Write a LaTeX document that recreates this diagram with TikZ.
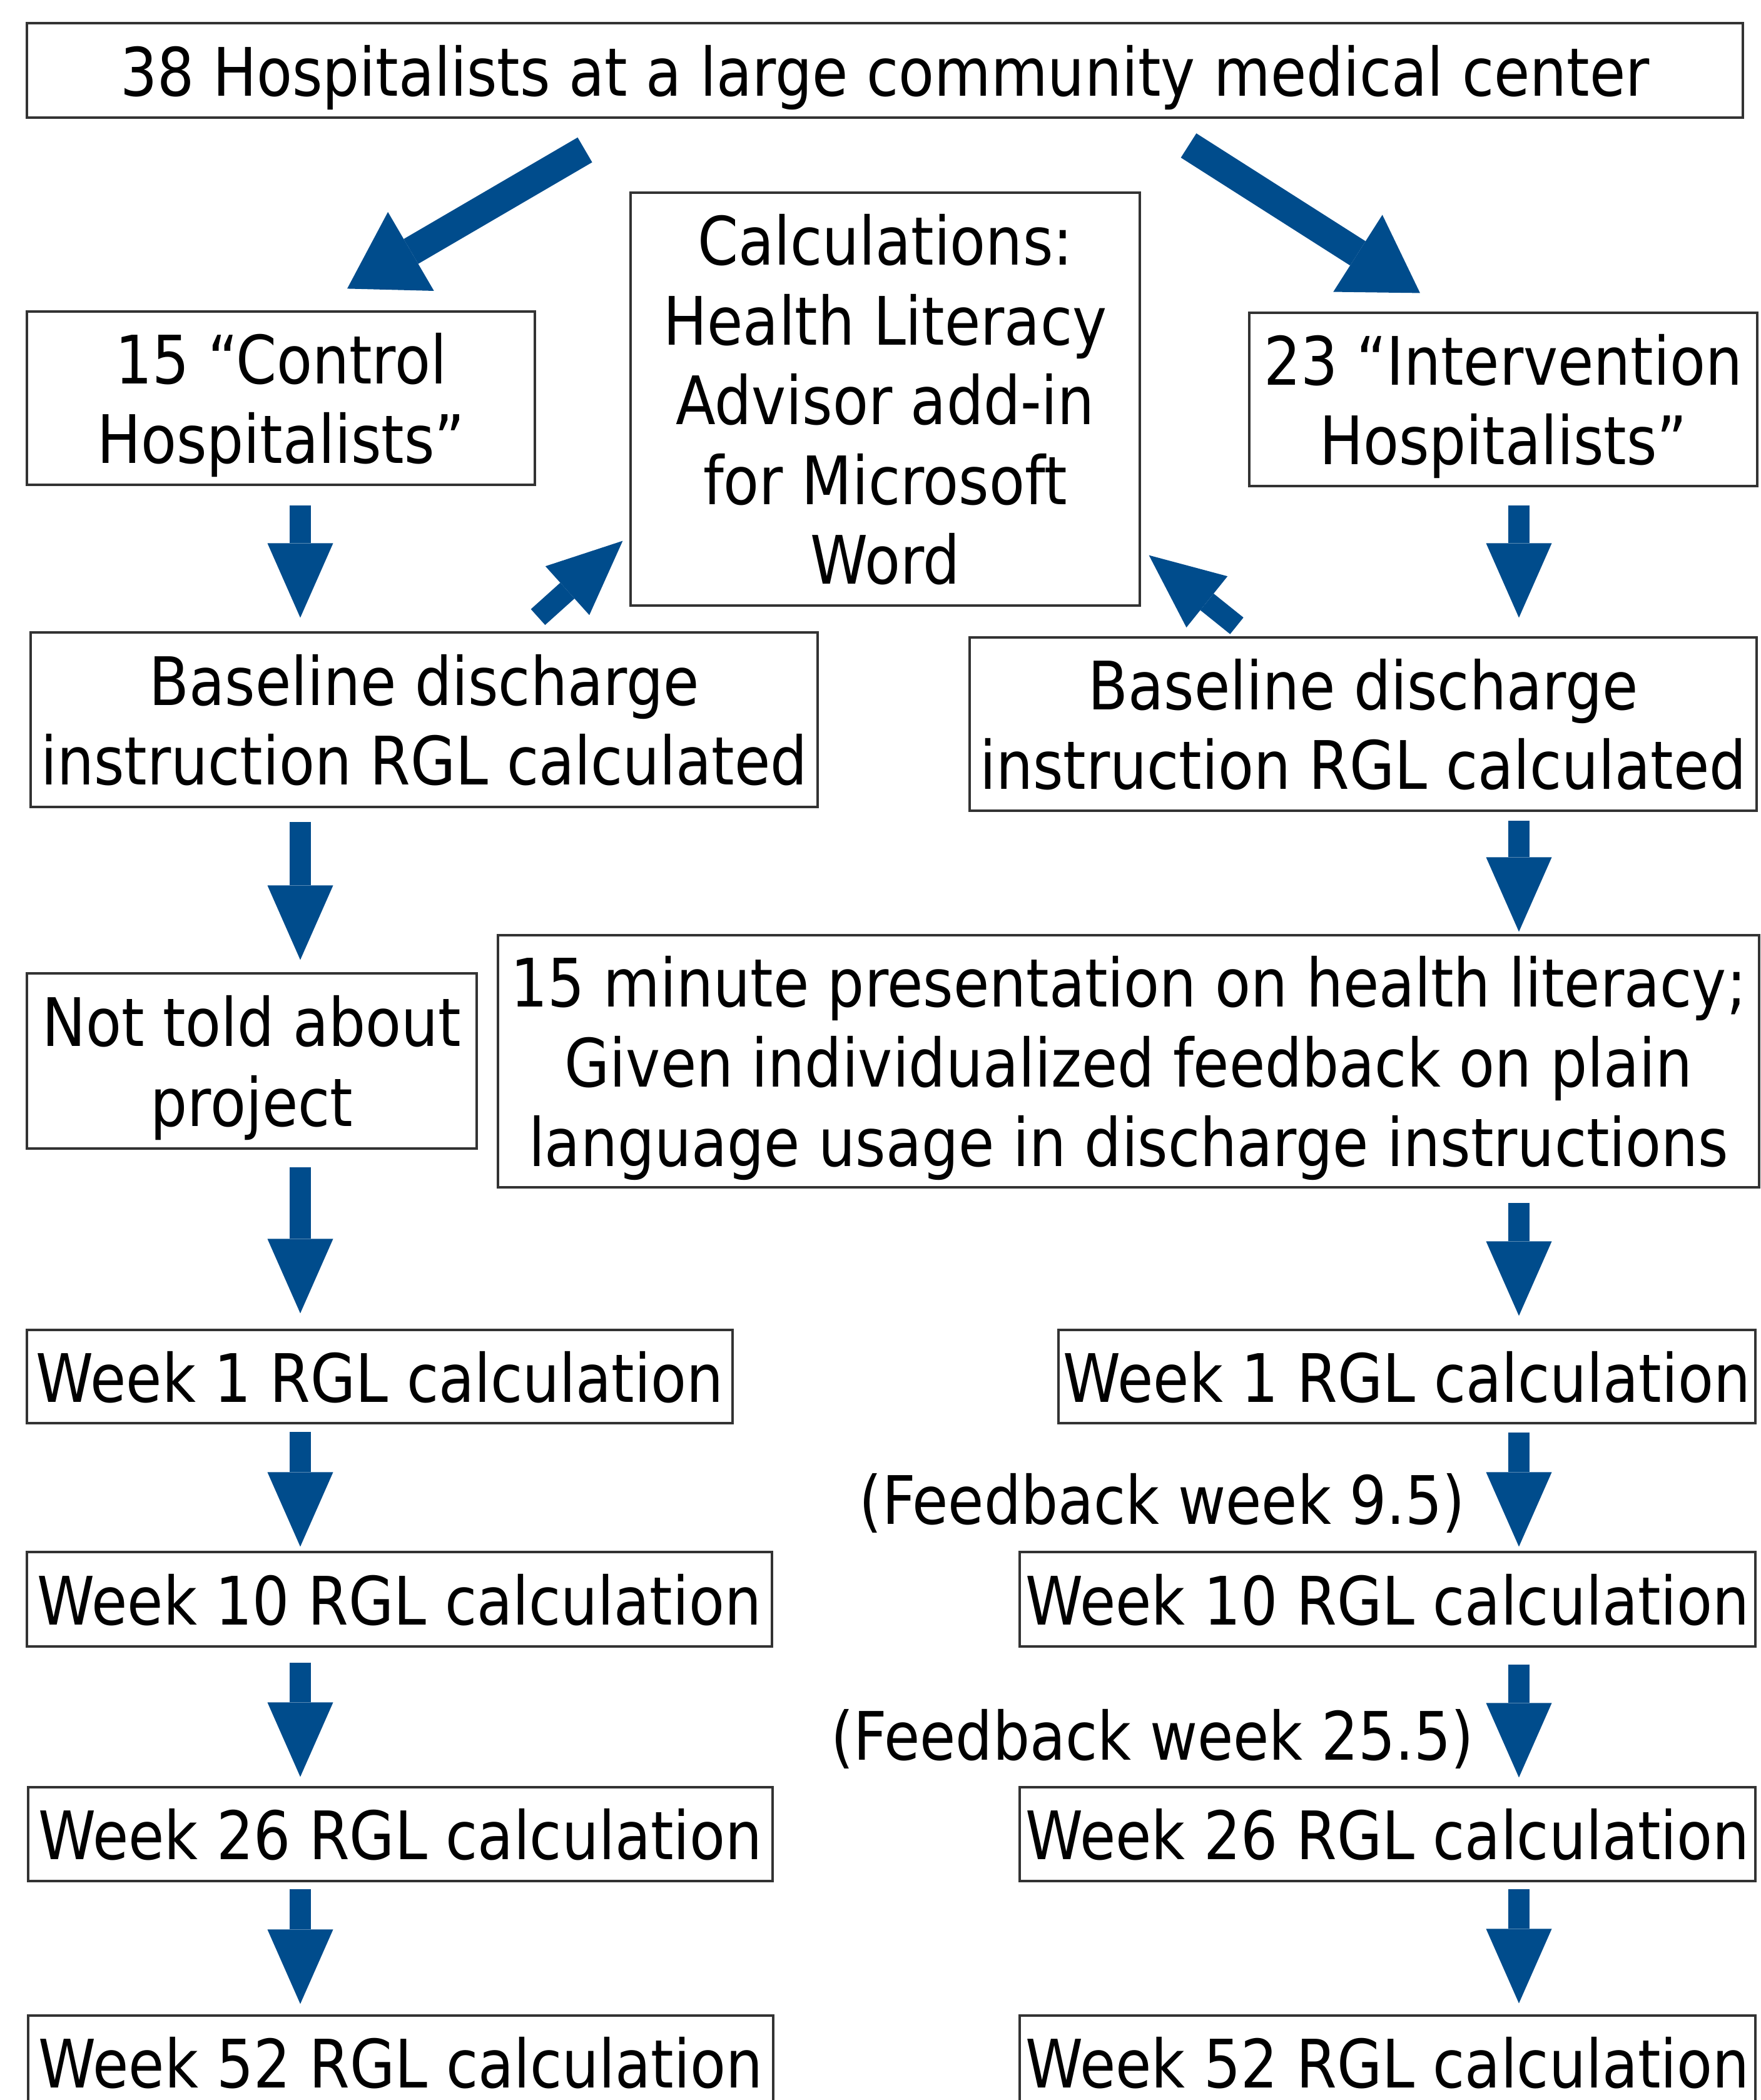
\documentclass[tikz,border=0pt]{standalone}
\usepackage{fontspec}
\setmainfont{DejaVu Sans}[FakeStretch=0.872]
\usetikzlibrary{arrows.meta, calc}
\definecolor{flowblue}{RGB}{0,76,140}
\newcommand{\boxfont}{\fontsize{30.4}{36.3}\selectfont}

\begin{document}
\begin{tikzpicture}[
  box/.style={draw=black!80, line width=0.9pt, inner sep=0pt, align=center, text depth=0pt, font=\boxfont},
  flow/.style={flowblue, line width=0.34cm, -{Triangle[width=1.05cm, length=1.19cm, line width=0pt]}},
  bigflow/.style={flowblue, line width=0.46cm, -{Triangle[width=1.46cm, length=1.18cm, line width=0pt]}},
  note/.style={font=\boxfont, inner sep=0pt}
]
\useasboundingbox (0,0) rectangle (28.14,-33.57);
% Top of the study
\node[box, minimum width=27.43cm, minimum height=1.51cm] (top) at (14.145,-1.125) {38 Hospitalists at a large community medical center};
\node[box, minimum width=8.12cm, minimum height=2.77cm] (ctl) at (4.49,-6.365) {15 “Control\\ Hospitalists”};
\node[box, minimum width=8.14cm, minimum height=6.60cm] (calc) at (14.15,-6.38) {Calculations:\\ Health Literacy\\ Advisor add-in\\ for Microsoft\\ Word};
\node[box, minimum width=8.12cm, minimum height=2.77cm] (int) at (24.03,-6.385) {23 “Intervention\\ Hospitalists”};
% Baseline
\node[box, minimum width=12.58cm, minimum height=2.79cm] (baseL) at (6.78,-11.505) {Baseline discharge\\ instruction RGL calculated};
\node[box, minimum width=12.58cm, minimum height=2.77cm] (baseR) at (21.79,-11.575) {Baseline discharge\\ instruction RGL calculated};
\node[box, minimum width=7.19cm, minimum height=2.80cm] (told) at (4.025,-16.96) {Not told about\\ project};
\node[box, minimum width=20.16cm, minimum height=4.03cm] (pres) at (18.04,-16.965) {15 minute presentation on health literacy;\\ Given individualized feedback on plain\\ language usage in discharge instructions};
% Control column
\node[box, minimum width=11.28cm, minimum height=1.49cm] (wk1L) at (6.07,-22.005) {Week 1 RGL calculation};
\node[box, minimum width=11.91cm, minimum height=1.51cm] (wk10L) at (6.385,-25.565) {Week 10 RGL calculation};
\node[box, minimum width=11.90cm, minimum height=1.50cm] (wk26L) at (6.40,-29.32) {Week 26 RGL calculation};
\node[box, minimum width=11.91cm, minimum height=1.50cm] (wk52L) at (6.405,-32.97) {Week 52 RGL calculation};
% Intervention column
\node[box, minimum width=11.14cm, minimum height=1.49cm] (wk1R) at (22.49,-22.005) {Week 1 RGL calculation};
\node[box, minimum width=11.76cm, minimum height=1.51cm] (wk10R) at (22.18,-25.565) {Week 10 RGL calculation};
\node[box, minimum width=11.76cm, minimum height=1.50cm] (wk26R) at (22.18,-29.32) {Week 26 RGL calculation};
\node[box, minimum width=11.76cm, minimum height=1.50cm] (wk52R) at (22.18,-32.97) {Week 52 RGL calculation};
\node[note, anchor=base east] (fb1) at (23.43,-24.36) {(Feedback week 9.5)};
\node[note, anchor=base east] (fb2) at (23.57,-28.13) {(Feedback week 25.5)};
% Arrows
\coordinate (colL) at (4.80,0);
\coordinate (colR) at (24.28,0);
\draw[bigflow] ($(top.south)+(-4.795,-0.50)$) -- ($(ctl.north)+(1.06,0.35)$);
\draw[bigflow] ($(top.south)+(4.855,-0.43)$) -- ($(int.north)+(-1.33,0.30)$);
\draw[flow] ($(baseL.north)+(1.82,0.23)$) -- ($(calc.south west)+(-0.11,1.05)$);
\draw[flow] ($(baseR.north)+(-2.02,0.17)$) -- ($(calc.south east)+(0.13,0.82)$);
\draw[flow, shorten <=3.1mm, shorten >=2.2mm] (ctl.south -| colL) -- (baseL.north -| colL);
\draw[flow, shorten <=2.2mm, shorten >=2.0mm] (baseL.south -| colL) -- (told.north -| colL);
\draw[flow, shorten <=2.8mm, shorten >=2.5mm] (told.south -| colL) -- (wk1L.north -| colL);
\draw[flow, shorten <=1.2mm, shorten >=0.7mm] (wk1L.south -| colL) -- (wk10L.north -| colL);
\draw[flow, shorten <=2.4mm, shorten >=1.5mm] (wk10L.south -| colL) -- (wk26L.north -| colL);
\draw[flow, shorten <=1.1mm, shorten >=1.7mm] (wk26L.south -| colL) -- (wk52L.north -| colL);
\draw[flow, shorten <=2.9mm, shorten >=3.0mm] (int.south -| colR) -- (baseR.north -| colR);
\draw[flow, shorten <=1.4mm, shorten >=0.4mm] (baseR.south -| colR) -- (pres.north -| colR);
\draw[flow, shorten <=2.3mm, shorten >=2.1mm] (pres.south -| colR) -- (wk1R.north -| colR);
\draw[flow, shorten <=1.3mm, shorten >=0.7mm] (wk1R.south -| colR) -- (wk10R.north -| colR);
\draw[flow, shorten <=2.7mm, shorten >=1.4mm] (wk10R.south -| colR) -- (wk26R.north -| colR);
\draw[flow, shorten <=1.1mm, shorten >=1.8mm] (wk26R.south -| colR) -- (wk52R.north -| colR);
\end{tikzpicture}
\end{document}
